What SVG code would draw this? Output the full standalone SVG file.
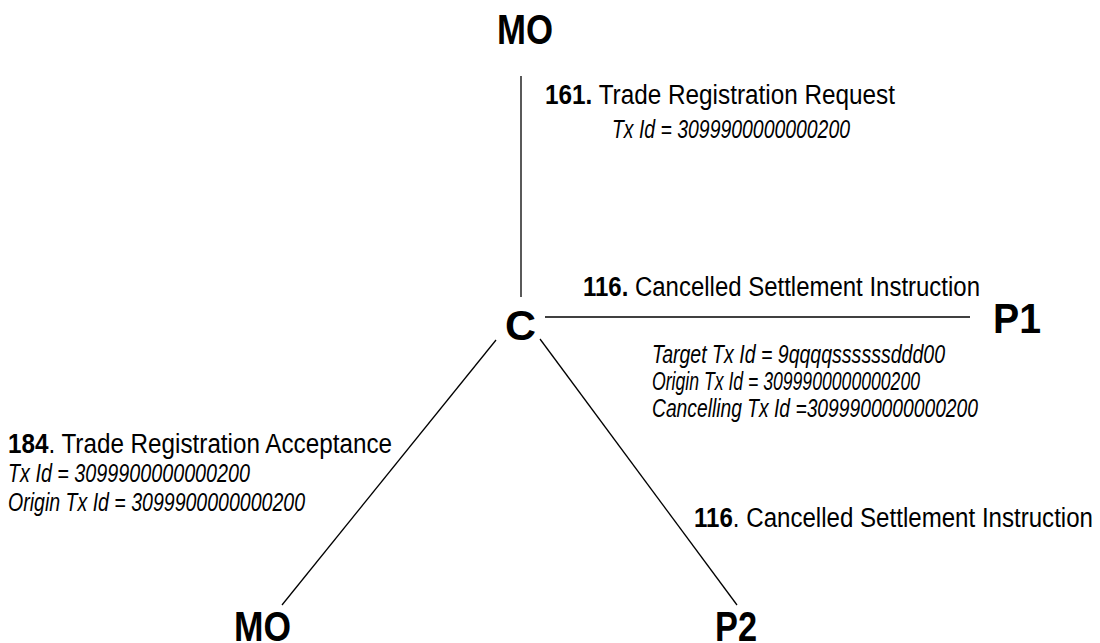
<svg xmlns="http://www.w3.org/2000/svg" width="1100" height="643" viewBox="0 0 1100 643">
<style>
text{font-family:"Liberation Sans Narrow","Liberation Sans",Arial,sans-serif;fill:#000}
.node{font-size:42px;font-weight:bold}
.lab{font-size:27px}
.num{font-weight:bold}
.it{font-size:25px;font-style:italic}
.conn line{stroke:#000;stroke-width:1.3;fill:none}
</style>
<rect width="1100" height="643" fill="#fff"/>
<g id="connectors" class="conn">
<line x1="521" y1="76" x2="521" y2="297"/>
<line x1="545" y1="317" x2="970" y2="317"/>
<line x1="496" y1="340" x2="282" y2="605"/>
<line x1="540" y1="339" x2="737" y2="605"/>
</g>
<g id="node-mo-top"><text class="node" x="497" y="44" textLength="56" lengthAdjust="spacingAndGlyphs">MO</text></g>
<g id="node-c"><text class="node" x="505" y="340" textLength="31" lengthAdjust="spacingAndGlyphs">C</text></g>
<g id="node-p1"><text class="node" x="993" y="333" textLength="48" lengthAdjust="spacingAndGlyphs">P1</text></g>
<g id="node-mo-bottom"><text class="node" x="234" y="641" textLength="57" lengthAdjust="spacingAndGlyphs">MO</text></g>
<g id="node-p2"><text class="node" x="715" y="641" textLength="42" lengthAdjust="spacingAndGlyphs">P2</text></g>
<g id="labels">
<text class="lab" x="545" y="104" textLength="350" lengthAdjust="spacingAndGlyphs"><tspan class="num">161.</tspan> Trade Registration Request</text>
<text class="it" x="612" y="138" textLength="238" lengthAdjust="spacingAndGlyphs">Tx Id = 3099900000000200</text>
<text class="lab" x="583" y="296" textLength="397" lengthAdjust="spacingAndGlyphs"><tspan class="num">116.</tspan> Cancelled Settlement Instruction</text>
<text class="it" x="652" y="363" textLength="293" lengthAdjust="spacingAndGlyphs">Target Tx Id = 9qqqqssssssddd00</text>
<text class="it" x="652" y="390" textLength="268" lengthAdjust="spacingAndGlyphs">Origin Tx Id = 3099900000000200</text>
<text class="it" x="652" y="417" textLength="326" lengthAdjust="spacingAndGlyphs">Cancelling Tx Id =3099900000000200</text>
<text class="lab" x="8" y="453" textLength="384" lengthAdjust="spacingAndGlyphs"><tspan class="num">184</tspan>. Trade Registration Acceptance</text>
<text class="it" x="8" y="482" textLength="242" lengthAdjust="spacingAndGlyphs">Tx Id = 3099900000000200</text>
<text class="it" x="8" y="511" textLength="297" lengthAdjust="spacingAndGlyphs">Origin Tx Id = 3099900000000200</text>
<text class="lab" x="694" y="527" textLength="399" lengthAdjust="spacingAndGlyphs"><tspan class="num">116</tspan>. Cancelled Settlement Instruction</text>
</g>
</svg>
